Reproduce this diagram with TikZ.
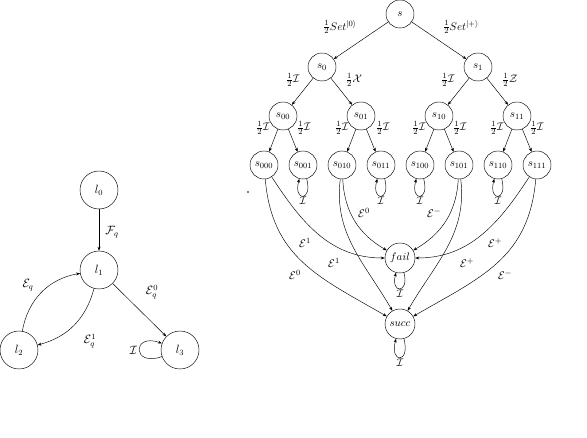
\documentclass[tikz,border=0pt]{standalone}
\usetikzlibrary{arrows.meta}
\begin{document}
\begin{tikzpicture}[x=1pt,y=-1pt,line width=0.45pt,
  >={Stealth[length=4pt,width=3pt]},
  st/.style={circle,draw,minimum size=28pt,inner sep=0pt,font=\fontsize{11}{13}\selectfont},
  bigst/.style={st,minimum size=30pt},
  lst/.style={circle,draw,minimum size=38pt,inner sep=0pt,font=\large},
  lab/.style={font=\fontsize{11}{13}\selectfont,inner sep=1pt},
  llab/.style={font=\large,inner sep=1pt},
  sloop/.style={->,out=-75,in=-105,looseness=1,min distance=24pt},
]
\useasboundingbox (0,0) rectangle (587,438);
% ---------- left automaton ----------
\node[lst] (l0) at (99,190) {$l_0$};
\node[lst] (l1) at (99,270) {$l_1$};
\node[lst] (l2) at (19,350) {$l_2$};
\node[lst] (l3) at (180,350) {$l_3$};
\draw[->] (l0) -- (l1);
\draw[->] (l2) to[out=80,in=190] (l1);
\draw[->] (l1) to[out=-105,in=15] (l2);
\draw[->] (l1) -- (l3);
\draw[->] (l3) to[out=-160,in=160,looseness=1,min distance=32pt] node[left,llab,inner sep=2pt] (lI) {$\mathcal{I}$} (l3);
\node[llab] (lF) at (112,232) {$\mathcal{F}_q$};
\node[llab] (lEq) at (28,285) {$\mathcal{E}_q$};
\node[llab] (lEq1) at (90,341) {$\mathcal{E}_q^1$};
\node[llab] (lEq0) at (152,292) {$\mathcal{E}_q^0$};
% ---------- right tree ----------
\node[st] (s) at (400,14) {$s$};
\node[st] (s0) at (322,67) {$s_0$};
\node[st] (s1) at (478,67) {$s_1$};
\node[st] (s00) at (283,116) {$s_{00}$};
\node[st] (s01) at (361,116) {$s_{01}$};
\node[st] (s10) at (439,116) {$s_{10}$};
\node[st] (s11) at (517,116) {$s_{11}$};
\node[st] (s000) at (264,165) {$s_{000}$};
\node[st] (s001) at (303,165) {$s_{001}$};
\node[st] (s010) at (342,165) {$s_{010}$};
\node[st] (s011) at (381,165) {$s_{011}$};
\node[st] (s100) at (420,165) {$s_{100}$};
\node[st] (s101) at (459,165) {$s_{101}$};
\node[st] (s110) at (498,165) {$s_{110}$};
\node[st] (s111) at (537,165) {$s_{111}$};
\node[bigst] (fail) at (400,258) {$fail$};
\node[bigst] (succ) at (400,324) {$succ$};
\draw[->] (s) -- (s0);
\draw[->] (s) -- (s1);
\draw[->] (s0) -- (s00);
\draw[->] (s0) -- (s01);
\draw[->] (s1) -- (s10);
\draw[->] (s1) -- (s11);
\draw[->] (s00) -- (s000);
\draw[->] (s00) -- (s001);
\draw[->] (s01) -- (s010);
\draw[->] (s01) -- (s011);
\draw[->] (s10) -- (s100);
\draw[->] (s10) -- (s101);
\draw[->] (s11) -- (s110);
\draw[->] (s11) -- (s111);
\node[lab] (t1) at (340,27) {$\frac{1}{2}Set^{|0\rangle}$};
\node[lab] (t2) at (461,27) {$\frac{1}{2}Set^{|+\rangle}$};
\node[lab] (t3) at (293,80) {$\frac{1}{2}\mathcal{I}$};
\node[lab] (t4) at (354,80) {$\frac{1}{2}\mathcal{X}$};
\node[lab] (t5) at (448,80) {$\frac{1}{2}\mathcal{I}$};
\node[lab] (t6) at (510,80) {$\frac{1}{2}\mathcal{Z}$};
\foreach \x/\n in {263/a,304/b,342/c,383/d,419/e,460/f,497/g,537/h}
  \node[lab] (u\n) at (\x,128) {$\frac{1}{2}\mathcal{I}$};
% loops
\foreach \n in {s001,s011,s100,s110}
  \draw[sloop] (\n) to node[below,lab] (I\n) {$\mathcal{I}$} (\n);
\draw[sloop,min distance=22pt] (fail) to node[below,lab] (Ifail) {$\mathcal{I}$} (fail);
\draw[sloop,min distance=26pt] (succ) to node[below,lab] (Isucc) {$\mathcal{I}$} (succ);
% to fail / succ
\draw[->] (s000) to[out=-57,in=180] (fail);
\draw[->] (s000) to[out=-85,in=150,looseness=1.1] (succ);
\draw[->] (s010) to[out=-87,in=150] (fail);
\draw[->] (s010) to[out=-97,in=120] (succ);
\draw[->] (s101) to[out=-93,in=30] (fail);
\draw[->] (s101) to[out=-83,in=60] (succ);
\draw[->] (s111) to[out=-123,in=0] (fail);
\draw[->] (s111) to[out=-95,in=30,looseness=1.1] (succ);
\node[lab] (e1) at (305,243) {$\mathcal{E}^1$};
\node[lab] (e2) at (295,275) {$\mathcal{E}^0$};
\node[lab] (e3) at (364,213) {$\mathcal{E}^0$};
\node[lab] (e4) at (334,263) {$\mathcal{E}^1$};
\node[lab] (e5) at (434,213) {$\mathcal{E}^-$};
\node[lab] (e6) at (467,263) {$\mathcal{E}^+$};
\node[lab] (e7) at (495,243) {$\mathcal{E}^+$};
\node[lab] (e8) at (505,275) {$\mathcal{E}^-$};
\fill (248,192) circle (0.8pt);
\end{tikzpicture}
\end{document}
